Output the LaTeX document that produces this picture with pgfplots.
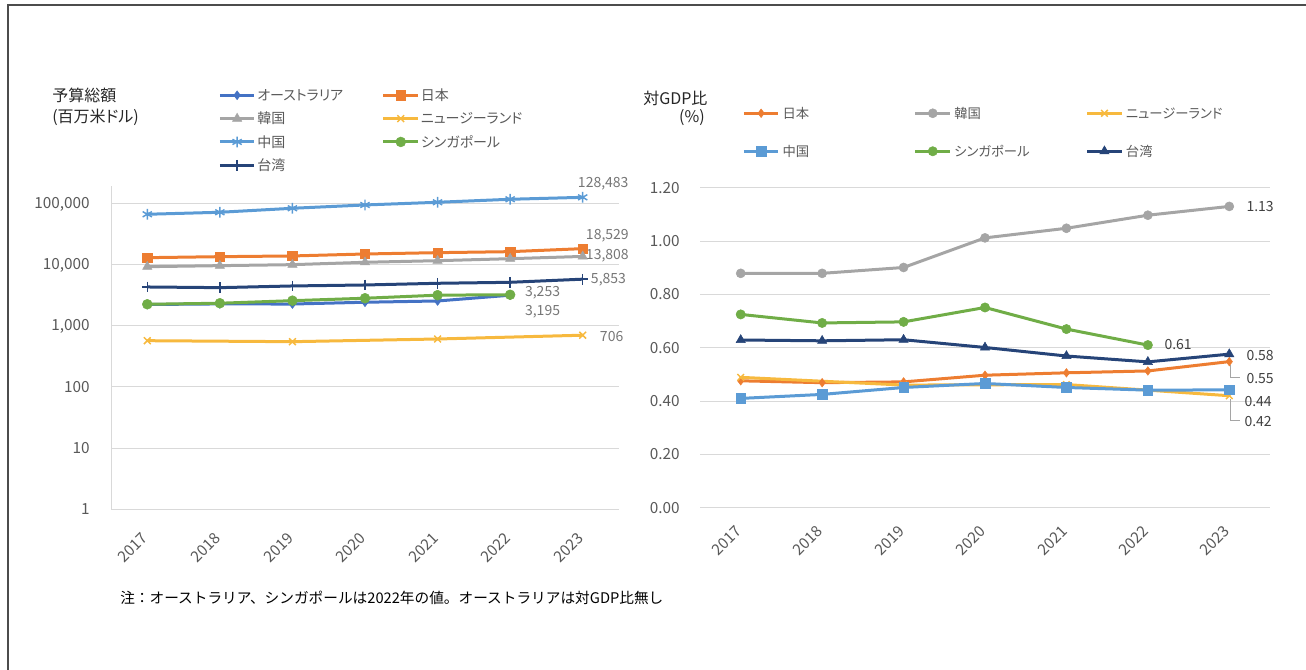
\documentclass[border=0pt]{standalone}
\usepackage{pgfplots}
\pgfplotsset{compat=1.18}
\usepackage{fontspec}
\setmainfont{Noto Sans CJK JP}
\newfontfamily\jp{Noto Sans CJK JP}[RawFeature=+palt]

\definecolor{cAus}{HTML}{4472C4}
\definecolor{cJpn}{HTML}{ED7D31}
\definecolor{cKor}{HTML}{A5A5A5}
\definecolor{cNzl}{HTML}{F7B93E}
\definecolor{cChn}{HTML}{5B9BD5}
\definecolor{cSgp}{HTML}{70AD47}
\definecolor{cTwn}{HTML}{264478}
\definecolor{gridc}{HTML}{D9D9D9}
\definecolor{txt}{HTML}{595959}
\definecolor{labl}{HTML}{767676}
\definecolor{labr}{HTML}{404040}
\definecolor{tit}{HTML}{262626}

\tikzset{lab/.style={anchor=west, inner sep=0pt, font=\fontsize{10.5}{12}\selectfont}}

% x positions: 0 = 2017, ..., 6 = 2023
\pgfplotsset{
  legend image code/.code={\draw[mark repeat=2,mark phase=2,#1] plot coordinates {(0pt,0pt) (13pt,0pt) (26pt,0pt)};},
  yearaxis/.style={
    scale only axis, clip=false,
    xmin=-0.5, xmax=6.5,
    xtick={0,1,2,3,4,5,6},
    xticklabels={2017,2018,2019,2020,2021,2022,2023},
    major tick length=0pt, minor tick length=0pt,
    ymajorgrids, yminorgrids=false,
    major grid style={draw=gridc, line width=0.75pt},
    tick label style={font=\fontsize{11.5}{13}\selectfont, text=txt},
    y tick label style={inner sep=0pt, anchor=east},
    legend cell align=left,
    legend style={draw=none, fill=none, inner sep=0pt,
      nodes={inner sep=0pt, anchor=west, text=txt, text height=8.5pt, text depth=0.5pt}},
    every axis plot/.append style={line width=2.25pt},
  },
  fillmark/.style={mark options={solid, line width=0.4pt}},
  linemark/.style={mark options={solid, line width=1.1pt}},
}

\begin{document}
\begin{tikzpicture}
\useasboundingbox (0pt,0pt) rectangle (979.5pt,-501.75pt);
\draw[line width=1.1pt, color=black!70] (6pt,-520pt) -- (6pt,-3.75pt) -- (990pt,-3.75pt);

% budget totals, million USD, log scale
\begin{axis}[yearaxis,
  at={(83.25pt,-381.75pt)}, anchor=south west,
  width=381pt, height=242.25pt,
  ymode=log, ymin=1, ymax=197000, yminorticks=false,
  ytick={1,10,100,1000,10000,100000},
  yticklabels={1,10,100,{1,000},{10,000},{100,000}},
  y tick label style={xshift=-15.75pt},
  x tick label style={inner sep=0pt, xshift=-1.5pt, yshift=-20pt, rotate=45, anchor=east},
  axis x line*=bottom, axis y line*=left,
  axis line style={draw=gridc, line width=0.75pt, -},
  legend columns=2,
  legend style={at={(0.2107,1.3003)}, anchor=north west, row sep=8.5pt,
    font=\jp\fontsize{10.5}{12}\selectfont,
    /tikz/every odd column/.append style={column sep=1pt}},
]
\addplot[color=cAus, mark=diamond*, mark size=3.3pt, fillmark] coordinates {
  (0,2250) (1,2300) (2,2290) (3,2450) (4,2570) (5,3195)};
\addlegendentry{\makebox[93.5pt][l]{オーストラリア}}
\addplot[color=cJpn, mark=square*, mark size=3.5pt, fillmark] coordinates {
  (0,13180) (1,13680) (2,14060) (3,15140) (4,15920) (5,16530) (6,18529)};
\addlegendentry{日本}
\addplot[color=cKor, mark=triangle*, mark size=4pt, fillmark] coordinates {
  (0,9380) (1,9750) (2,10120) (3,11070) (4,11760) (5,12680) (6,13808)};
\addlegendentry{\makebox[93.5pt][l]{韓国}}
\addplot[color=cNzl, mark=x, mark size=3.6pt, linemark] coordinates {
  (0,574) (2,553) (4,612) (6,706)};
\addlegendentry{ニュージーランド}
\addplot[color=cChn, mark=asterisk, mark size=4pt, linemark] coordinates {
  (0,67800) (1,73100) (2,85000) (3,96300) (4,106600) (5,119400) (6,128483)};
\addlegendentry{\makebox[93.5pt][l]{中国}}
\addplot[color=cSgp, mark=*, mark size=3.7pt, fillmark] coordinates {
  (0,2270) (1,2360) (2,2600) (3,2850) (4,3200) (5,3253)};
\addlegendentry{シンガポール}
\addplot[color=cTwn, mark=+, mark size=4pt, linemark] coordinates {
  (0,4360) (1,4250) (2,4530) (3,4700) (4,5010) (5,5200) (6,5853)};
\addlegendentry{\makebox[93.5pt][l]{台湾}}

\node[lab, text=labl, xshift=-3.75pt, yshift=10.1pt] at (axis cs:6,128483) {128,483};
\node[lab, text=labl, xshift=2.25pt, yshift=9.5pt] at (axis cs:6,18529) {18,529};
\node[lab, text=labl, xshift=2.25pt, yshift=0.4pt] at (axis cs:6,13808) {13,808};
\node[lab, text=labl, xshift=6pt, yshift=-0.6pt] at (axis cs:6,5853) {5,853};
\node[lab, text=labl, xshift=11pt, yshift=1.3pt] at (axis cs:5,3253) {3,253};
\node[lab, text=labl, xshift=11pt, yshift=-12.6pt] at (axis cs:5,3195) {3,195};
\node[lab, text=labl, xshift=12.75pt, yshift=-0.6pt] at (axis cs:6,706) {706};
\end{axis}

% share of GDP, percent
\begin{axis}[yearaxis,
  at={(525pt,-380.8pt)}, anchor=south west,
  width=427.5pt, height=240pt,
  ymin=0, ymax=1.2,
  ytick={0,0.2,0.4,0.6,0.8,1.0,1.2},
  yticklabels={0.00,0.20,0.40,0.60,0.80,1.00,1.20},
  y tick label style={xshift=-15pt},
  x tick label style={inner sep=0pt, xshift=-1.5pt, yshift=-15.5pt, rotate=45, anchor=east},
  axis line style={draw=none},
  legend columns=3,
  legend style={at={(0.0737,1.2523)}, anchor=north west, row sep=19.5pt,
    font=\jp\fontsize{10}{12}\selectfont,
    /tikz/every odd column/.append style={column sep=2pt}},
]
\addplot[color=cJpn, mark=diamond*, mark size=3.2pt, fillmark] coordinates {
  (0,0.476) (1,0.469) (2,0.472) (3,0.497) (4,0.506) (5,0.513) (6,0.548)};
\addlegendentry{\makebox[98.5pt][l]{日本}}
\addplot[color=cKor, mark=*, mark size=3.4pt, fillmark] coordinates {
  (0,0.879) (1,0.879) (2,0.901) (3,1.012) (4,1.048) (5,1.097) (6,1.13)};
\addlegendentry{\makebox[98.5pt][l]{韓国}}
\addplot[color=cNzl, mark=x, mark size=3.5pt, linemark] coordinates {
  (0,0.489) (2,0.46) (4,0.462) (6,0.42)};
\addlegendentry{ニュージーランド}
\addplot[color=cChn, mark=square*, mark size=3.6pt, fillmark] coordinates {
  (0,0.41) (1,0.425) (2,0.451) (3,0.466) (4,0.451) (5,0.441) (6,0.442)};
\addlegendentry{\makebox[98.5pt][l]{中国}}
\addplot[color=cSgp, mark=*, mark size=3.5pt, fillmark] coordinates {
  (0,0.725) (1,0.693) (2,0.697) (3,0.751) (4,0.670) (5,0.61)};
\addlegendentry{\makebox[98.5pt][l]{シンガポール}}
\addplot[color=cTwn, mark=triangle*, mark size=4pt, fillmark] coordinates {
  (0,0.629) (1,0.626) (2,0.630) (3,0.601) (4,0.569) (5,0.547) (6,0.576)};
\addlegendentry{台湾}

\draw[color=cKor, line width=0.75pt] (axis cs:6,0.548) ++(0.75pt,-2.6pt) -- ++(0pt,-9.3pt) -- ++(7.5pt,0pt);
\draw[color=cKor, line width=0.75pt] (axis cs:6,0.42) ++(0.75pt,-2.6pt) -- ++(0pt,-16pt) -- ++(7pt,0pt);
\node[lab, text=labr, xshift=12.75pt] at (axis cs:6,1.13) {1.13};
\node[lab, text=labr, xshift=12.3pt, yshift=0.75pt] at (axis cs:5,0.61) {0.61};
\node[lab, text=labr, xshift=12.75pt, yshift=-1.3pt] at (axis cs:6,0.576) {0.58};
\node[lab, text=labr, xshift=12.75pt, yshift=-12.6pt] at (axis cs:6,0.548) {0.55};
\node[lab, text=labr, xshift=11.25pt, yshift=-8.4pt] at (axis cs:6,0.442) {0.44};
\node[lab, text=labr, xshift=11.25pt, yshift=-19pt] at (axis cs:6,0.42) {0.42};
\end{axis}

% titles and note
\node[anchor=west, inner sep=0pt, font=\jp\fontsize{12}{14}\selectfont, text=tit] at (39pt,-71.25pt) {予算総額};
\node[anchor=west, inner sep=0pt, font=\jp\fontsize{12}{14}\selectfont, text=tit] at (39pt,-87.75pt) {(百万米ドル)};
\node[anchor=west, inner sep=0pt, font=\jp\fontsize{12}{14}\selectfont, text=tit] at (482.25pt,-73.5pt) {対GDP比};
\node[anchor=east, inner sep=0pt, font=\jp\fontsize{12}{14}\selectfont, text=tit] at (528.75pt,-88.5pt) {(\%)};
\node[anchor=west, inner sep=0pt, font=\fontsize{11}{13}\selectfont] at (90pt,-448.5pt)
  {注：オーストラリア、シンガポールは2022年の値。オーストラリアは対GDP比無し};
\end{tikzpicture}
\end{document}
